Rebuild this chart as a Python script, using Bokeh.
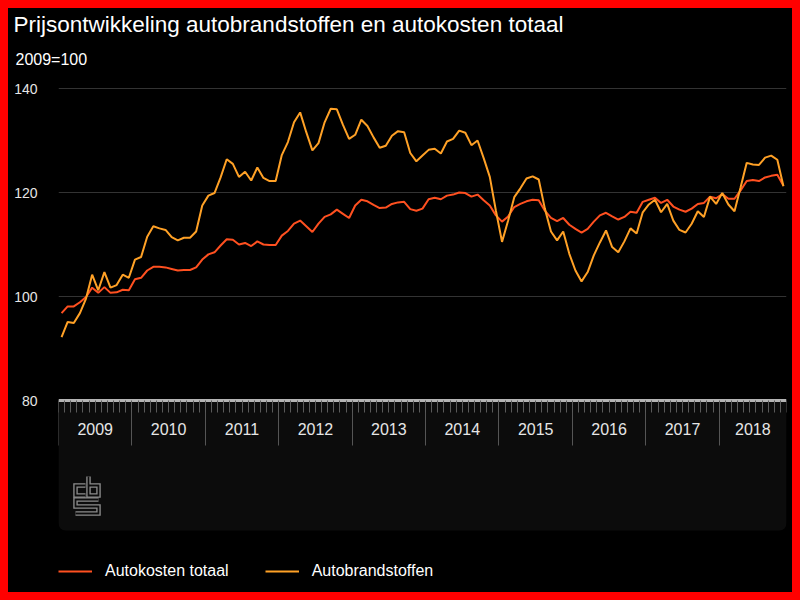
from bokeh.plotting import figure
from bokeh.models import (LinearAxis, FixedTicker, Grid, Range1d, BoxAnnotation,
                          Legend, LegendItem, Title, ColumnDataSource)
from bokeh.embed import file_html
from bokeh.resources import INLINE

# ---- data (monthly index, 2009=100), Jan 2009 .. Nov 2018 ----
years = ["2009", "2010", "2011", "2012", "2013", "2014", "2015", "2016", "2017", "2018"]

autokosten_totaal = [
    96.8, 98.1, 98.1, 98.9, 99.9, 101.7, 100.7, 101.8, 100.7, 100.8, 101.3, 101.2,     # 2009
    103.3, 103.6, 105.0, 105.7, 105.7, 105.6, 105.3, 105.0, 105.1, 105.1, 105.6, 107.1,  # 2010
    108.1, 108.5, 109.8, 111.0, 110.9, 110.0, 110.3, 109.7, 110.6, 110.0, 109.9, 109.9,  # 2011
    111.7, 112.6, 114.0, 114.6, 113.5, 112.4, 114.0, 115.3, 115.8, 116.7, 115.9, 115.1,  # 2012
    117.5, 118.6, 118.3, 117.6, 117.0, 117.1, 117.8, 118.1, 118.2, 116.8, 116.5, 116.9,  # 2013
    118.7, 119.0, 118.7, 119.4, 119.6, 120.0, 119.9, 119.2, 119.6, 118.5, 117.5, 115.6,  # 2014
    114.4, 115.4, 117.2, 117.8, 118.3, 118.6, 118.5, 116.5, 115.1, 114.5, 115.1, 113.8,  # 2015
    113.0, 112.3, 113.0, 114.4, 115.6, 116.1, 115.4, 114.8, 115.3, 116.3, 116.1, 118.2,  # 2016
    118.6, 119.0, 118.0, 118.6, 117.3, 116.7, 116.3, 116.9, 117.8, 118.0, 119.2, 118.9,  # 2017
    119.7, 118.8, 118.8, 120.4, 122.2, 122.4, 122.2, 122.9, 123.2, 123.4, 121.3,         # 2018
]

autobrandstoffen = [
    92.2, 95.1, 94.9, 96.8, 99.6, 104.2, 101.2, 104.7, 101.7, 102.2, 104.2, 103.6,      # 2009
    107.1, 107.6, 111.5, 113.5, 113.1, 112.8, 111.4, 110.8, 111.3, 111.3, 112.5, 117.5,  # 2010
    119.4, 119.9, 122.9, 126.4, 125.5, 123.0, 124.0, 122.3, 124.8, 122.8, 122.2, 122.2,  # 2011
    127.2, 129.7, 133.5, 135.4, 131.6, 128.1, 129.5, 133.5, 136.1, 136.0, 133.0, 130.3,  # 2012
    131.1, 134.0, 132.8, 130.6, 128.6, 129.0, 130.9, 131.8, 131.6, 127.6, 126.0, 127.1,  # 2013
    128.2, 128.4, 127.5, 129.8, 130.3, 131.9, 131.5, 129.1, 130.0, 126.6, 123.0, 116.5,  # 2014
    110.5, 114.6, 119.1, 120.8, 122.7, 123.1, 122.5, 116.9, 112.5, 110.8, 112.5, 108.2,  # 2015
    105.0, 102.9, 104.7, 107.9, 110.4, 112.7, 109.5, 108.5, 110.6, 113.1, 112.1, 116.2,  # 2016
    117.7, 118.6, 116.2, 117.8, 114.6, 112.8, 112.3, 114.0, 116.4, 115.3, 119.2, 117.8,  # 2017
    119.9, 117.7, 116.4, 121.0, 125.7, 125.4, 125.3, 126.7, 127.1, 126.3, 121.2,         # 2018
]

y_ticks = [80, 100, 120, 140]
grid_ticks = [100, 120, 140]

n = len(autokosten_totaal)
months = [i + 0.5 for i in range(n)]          # mid-month positions
year_starts = [12 * k for k in range(len(years))]
year_mids = [(s + min(s + 12, n)) / 2 for s in year_starts]

FONT = "Liberation Sans"
RED = "#ff5020"
ORANGE = "#ffa126"
GREY_TXT = "#e6e6e6"

# vertical scale: 20 units = 104 px; frame spans canvas y 72..584
px_per_unit = 5.2
px_per_month = 728 / n
y_start = 80 - 192 / px_per_unit
y_end = 140 + 8 / px_per_unit

p = figure(width=784, height=584, output_backend="svg", toolbar_location=None,
           x_axis_type=None, y_axis_type=None,
           x_range=Range1d(0, n), y_range=Range1d(y_start, y_end),
           min_border_left=50, min_border_right=6, min_border_top=72, min_border_bottom=0,
           background_fill_color="black", border_fill_color="black",
           outline_line_color=None)
p.styles = {"background-color": "black"}

# titles
p.add_layout(Title(text="2009=100", text_font=FONT, text_font_size="16px",
                   text_font_style="normal", text_color="white", align="left",
                   offset=-43, standoff=25), "above")
p.add_layout(Title(text="Prijsontwikkeling autobrandstoffen en autokosten totaal",
                   text_font=FONT, text_font_size="22.5px", text_font_style="normal",
                   text_color="white", align="left", offset=-45, standoff=0), "above")

# horizontal grid
p.add_layout(Grid(dimension=1, ticker=FixedTicker(ticks=grid_ticks),
                  grid_line_color="#333333", grid_line_width=1))

# dark panel under the time axis
panel_bottom = 80 - 130 / px_per_unit
p.add_layout(BoxAnnotation(left=0, right=n, top=80, bottom=panel_bottom,
                           fill_color="#0c0c0c", fill_alpha=1, line_color=None,
                           border_radius=(0, 0, 7, 7), level="underlay"))

# CBS logo (decoration), drawn as outlined strokes
def px(xp, yp):
    return ((74 - 58 + xp) / px_per_month, 80 - (476 - 400 + yp) / px_per_unit)

logo_paths = [
    [(11, 9), (1, 9), (1, 19), (11, 19)],                 # c
    [(14, 0), (14, 19), (24, 19), (24, 9), (14, 9)],      # b
    [(24, 23), (1, 23), (1, 30), (24, 30), (24, 37), (1, 37)],  # s
]
lx = [[px(a, b)[0] for a, b in path] for path in logo_paths]
ly = [[px(a, b)[1] for a, b in path] for path in logo_paths]
p.multi_line(lx, ly, line_color="#8c8c8c", line_width=4.5, line_join="miter")
p.multi_line(lx, ly, line_color="#0c0c0c", line_width=1.8, line_join="miter")

# y axis
yax = LinearAxis(ticker=FixedTicker(ticks=y_ticks), axis_line_color=None,
                 major_tick_line_color=None, minor_tick_line_color=None,
                 major_label_standoff=15, major_label_text_font=FONT,
                 major_label_text_font_size="14px", major_label_text_color=GREY_TXT)
p.add_layout(yax, "left")

# x axis: year labels + year separators
xax_years = LinearAxis(fixed_location=80,
                       ticker=FixedTicker(ticks=year_mids, minor_ticks=year_starts),
                       major_label_overrides={m: y for m, y in zip(year_mids, years)},
                       axis_line_color=None, major_tick_line_color=None,
                       minor_tick_line_color="#555555", minor_tick_out=45, minor_tick_in=0,
                       major_label_standoff=-23, major_label_text_font=FONT,
                       major_label_text_font_size="16px", major_label_text_color=GREY_TXT)
p.add_layout(xax_years, "below")

# x axis: month ticks + axis line
xax_months = LinearAxis(fixed_location=80,
                        ticker=FixedTicker(ticks=[], minor_ticks=list(range(n + 1))),
                        axis_line_color="#b4b4b4", axis_line_width=3,
                        major_tick_line_color=None,
                        minor_tick_line_color="#5a5a5a", minor_tick_out=12, minor_tick_in=0,
                        major_label_text_font_size="0px")
p.add_layout(xax_months, "below")

src = ColumnDataSource(dict(x=months, kosten=autokosten_totaal, brand=autobrandstoffen))
r1 = p.line("x", "kosten", source=src, line_color=RED, line_width=2)
r2 = p.line("x", "brand", source=src, line_color=ORANGE, line_width=2)

legend = Legend(items=[LegendItem(label="Autokosten totaal", renderers=[r1]),
                       LegendItem(label="Autobrandstoffen", renderers=[r2])],
                orientation="horizontal", location=(0, 11),
                glyph_width=34, glyph_height=20, label_standoff=13, spacing=36,
                padding=0, margin=0, label_text_font=FONT, label_text_font_size="16px",
                label_text_color="white", background_fill_alpha=0, border_line_alpha=0)
p.add_layout(legend, "center")

html = file_html(p, INLINE, title="Prijsontwikkeling autobrandstoffen en autokosten totaal")
html = html.replace("</head>",
                    "<style>html,body{background-color:#ff0000 !important;}"
                    "body{padding:8px !important;}</style></head>", 1)
open("out.html", "w").write(html)
